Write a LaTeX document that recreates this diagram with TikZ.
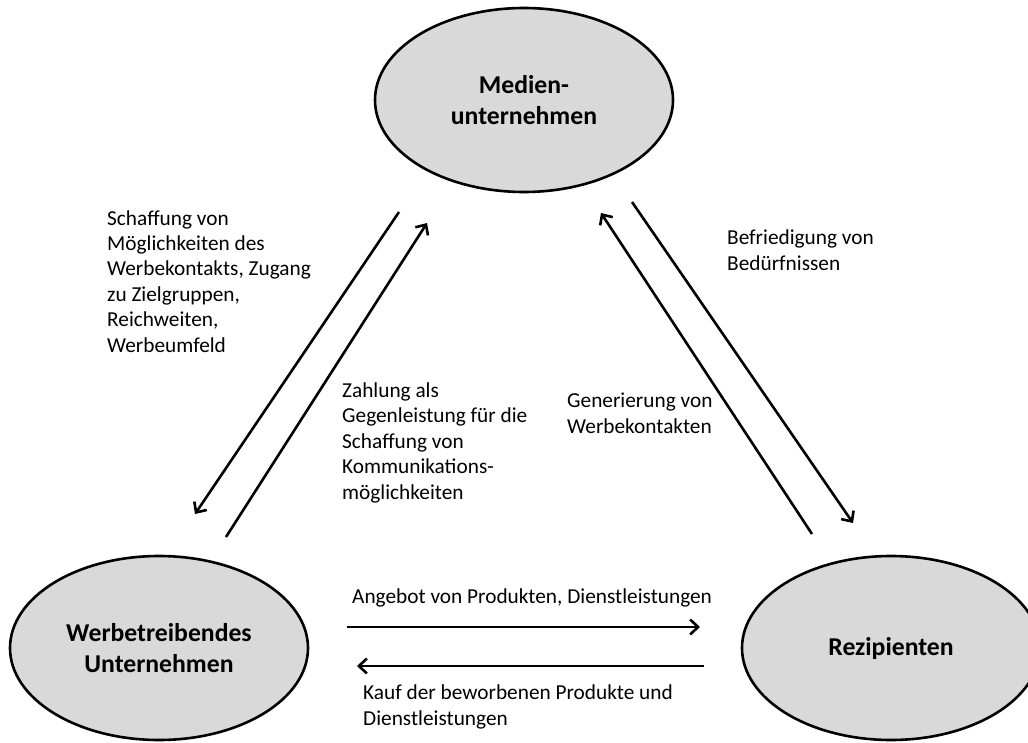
\documentclass[tikz,border=0pt]{standalone}
\usepackage{fontspec}
\setmainfont{Carlito}
\usetikzlibrary{shapes.geometric,arrows.meta}
\tikzset{
  actor/.style={ellipse, draw=black, line width=2.6pt, fill=black!15,
    minimum width=298pt, minimum height=184pt, inner sep=0pt, align=center,
    font=\fontsize{25.7}{30.5}\selectfont\bfseries},
  flow/.style={line width=2.6pt, -{Straight Barb[length=8pt,width=15pt,line width=2.6pt]}},
  lbl/.style={anchor=base west, inner sep=0pt, align=left,
    font=\fontsize{21.3}{25.4}\selectfont}
}
\begin{document}
\begin{tikzpicture}[x=1pt,y=-1pt]
\useasboundingbox (0,0) rectangle (1028,742);
\node[actor] (medien) at (524,100) {Medien-\\unternehmen};
\node[actor] (werbe) at (159,648) {Werbetreibendes\\Unternehmen};
\node[actor] (rezi) at (891,648) {Rezipienten};

% left pair
\coordinate (a1s) at (399,212);
\coordinate (a1e) at (195,514);
\coordinate (a2s) at (226,537);
\coordinate (a2e) at (427,223);
% right pair
\coordinate (b1s) at (632,202);
\coordinate (b1e) at (853,523);
\coordinate (b2s) at (812,534);
\coordinate (b2e) at (601,213);
% horizontal
\coordinate (c1s) at (347,627);
\coordinate (c1e) at (700,627);
\coordinate (c2s) at (704,666);
\coordinate (c2e) at (357,666);

\draw[flow] (a1s) -- (a1e);
\draw[flow] (a2s) -- (a2e);
\draw[flow] (b1s) -- (b1e);
\draw[flow] (b2s) -- (b2e);
\draw[flow] (c1s) -- (c1e);
\draw[flow] (c2s) -- (c2e);

% base anchor = baseline of the last line
\node[lbl] (l1) at (107,352) {Schaffung von\\Möglichkeiten des\\Werbekontakts, Zugang\\zu Zielgruppen,\\Reichweiten,\\Werbeumfeld};
\node[lbl] (l2) at (342,499) {Zahlung als\\Gegenleistung für die\\Schaffung von\\Kommunikations-\\möglichkeiten};
\node[lbl] (l3) at (727,270) {Befriedigung von\\Bedürfnissen};
\node[lbl] (l4) at (567,433) {Generierung von\\Werbekontakten};
\node[lbl] (l5) at (352,603) {Angebot von Produkten, Dienstleistungen};
\node[lbl] (l6) at (363,725) {Kauf der beworbenen Produkte und\\Dienstleistungen};
\end{tikzpicture}
\end{document}
